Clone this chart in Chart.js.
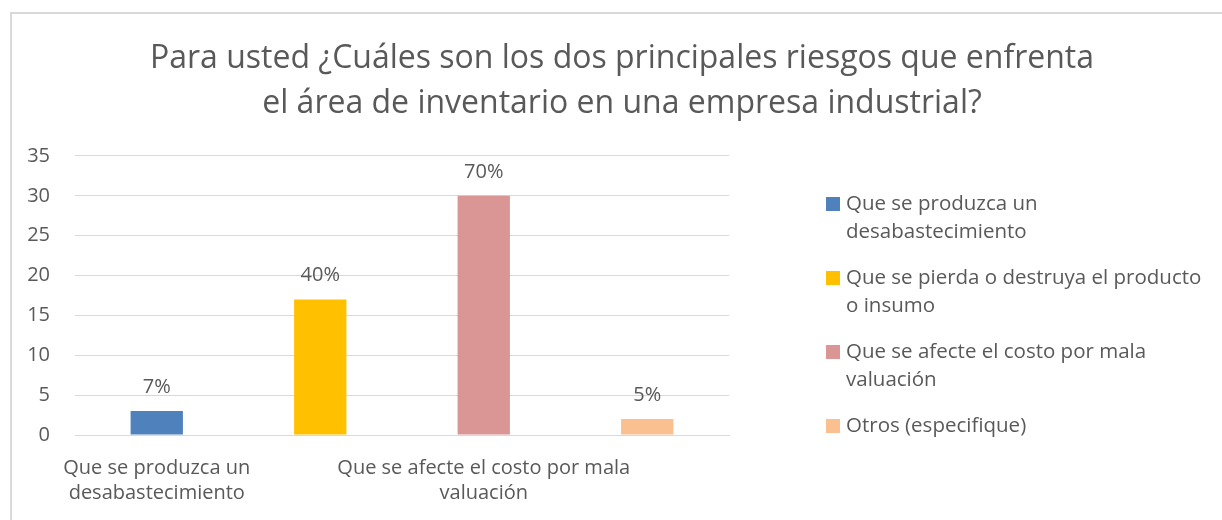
<!DOCTYPE html>
<html lang="es">
<head>
<meta charset="utf-8">
<title>Riesgos del área de inventario</title>
<script src="https://cdn.jsdelivr.net/npm/chart.js@4.4.1/dist/chart.umd.min.js"></script>
<style>
    html, body { margin: 0; padding: 0; background: #ffffff; overflow: hidden; }
    #frame {
        position: absolute; left: 10px; top: 12px;
        width: 1300px; height: 600px;
        border-left: 2px solid #d9d9d9; border-top: 2px solid #d9d9d9;
    }
    #chart { position: absolute; left: 0; top: 0; }
</style>
</head>
<body>
<div id="frame"></div>
<canvas id="chart" width="1222" height="520"></canvas>
<script>
/* Riesgos del área de inventario — bar chart */

const titleLines = [
    'Para usted ¿Cuáles son los dos principales riesgos que enfrenta',
    'el área de inventario en una empresa industrial?'
];

// each category already split into the lines shown in the picture
const categories = [
    ['Que se produzca un', 'desabastecimiento'],
    ['Que se pierda o destruya el producto', 'o insumo'],
    ['Que se afecte el costo por mala', 'valuación'],
    ['Otros (especifique)']
];

const counts = [3, 17, 30, 2];
const percentLabels = ['7%', '40%', '70%', '5%'];
const barColors = ['#4f81bd', '#ffc000', '#da9694', '#fac090'];
const yTicks = [0, 5, 10, 15, 20, 25, 30, 35];

const FONT = "'Open Sans', 'Noto Sans', sans-serif";
const TEXT = '#595959';
const GRID = '#d9d9d9';

// percentage text above each bar
const barLabels = {
    id: 'barLabels',
    afterDatasetsDraw(chart) {
        const ctx = chart.ctx;
        const meta = chart.getDatasetMeta(0);
        ctx.save();
        ctx.font = '20px ' + FONT;
        ctx.fillStyle = TEXT;
        ctx.textAlign = 'center';
        ctx.textBaseline = 'middle';
        meta.data.forEach((bar, i) => {
            ctx.fillText(percentLabels[i], bar.x, bar.y - 24);
        });
        ctx.restore();
    }
};

// Excel-style legend on the right, with wrapped text
const sideLegend = {
    id: 'sideLegend',
    afterDraw(chart) {
        const ctx = chart.ctx;
        const area = chart.chartArea;
        const x = area.right + 97;
        let y = area.top + 48;
        ctx.save();
        ctx.font = '20.5px ' + FONT;
        ctx.textAlign = 'left';
        ctx.textBaseline = 'middle';
        categories.forEach((lines, i) => {
            ctx.fillStyle = barColors[i];
            ctx.fillRect(x, y - 7, 14, 14);
            ctx.fillStyle = TEXT;
            lines.forEach((line, j) => {
                ctx.fillText(line, x + 20, y + j * 28);
            });
            y += lines.length * 28 + 18;
        });
        ctx.restore();
    }
};

new Chart(document.getElementById('chart'), {
    type: 'bar',
    data: {
        labels: categories,
        datasets: [{
            data: counts,
            backgroundColor: barColors,
            borderWidth: 0,
            categoryPercentage: 1,
            barPercentage: 0.32
        }]
    },
    options: {
        responsive: false,
        animation: false,
        layout: { padding: { left: 22, right: 0, top: 0, bottom: 14 } },
        plugins: {
            legend: { display: false },
            tooltip: { enabled: false },
            title: {
                display: true,
                text: titleLines,
                color: TEXT,
                font: { family: FONT, size: 32, weight: 'normal', lineHeight: 1.406 },
                padding: { top: 36, bottom: 30 }
            }
        },
        scales: {
            x: {
                grid: { display: false, drawTicks: false },
                border: { color: GRID, width: 1 },
                afterFit(scale) { scale.height = 71; },
                ticks: {
                    color: TEXT,
                    font: { family: FONT, size: 20, lineHeight: 1.25 },
                    padding: 21,
                    autoSkip: false,
                    maxRotation: 0,
                    callback: function(val, i) {
                        return i % 2 === 0 ? this.getLabelForValue(val) : '';
                    }
                }
            },
            y: {
                min: 0,
                max: 35,
                afterBuildTicks(scale) {
                    scale.ticks = yTicks.map(v => ({ value: v }));
                },
                afterFit(scale) { scale.width = 53; },
                grid: { color: GRID, lineWidth: 1, drawTicks: false },
                border: { display: false },
                ticks: {
                    color: TEXT,
                    font: { family: FONT, size: 20 },
                    padding: 25
                }
            },
            // empty axis that keeps room for the legend on the right
            legendSpace: {
                type: 'linear',
                position: 'right',
                afterFit(scale) { scale.width = 493; },
                grid: { display: false, drawTicks: false },
                border: { display: false },
                ticks: { display: false }
            }
        }
    },
    plugins: [barLabels, sideLegend]
});
</script>
</body>
</html>
